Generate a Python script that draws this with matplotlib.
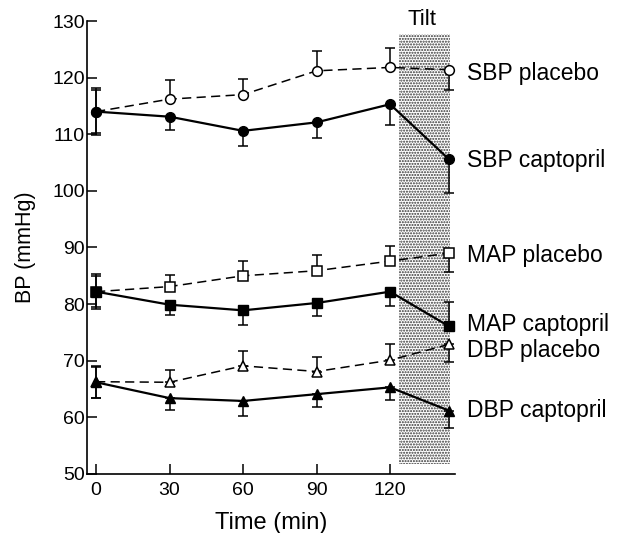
import numpy as np
import matplotlib.pyplot as plt

plt.rcParams['font.family'] = ['Liberation Sans', 'DejaVu Sans']

# Tiempos (min); el ultimo punto es durante el tilt
t = [0, 30, 60, 90, 120, 144]

sbp_plac = [114.0, 116.2, 117.0, 121.2, 121.8, 121.4]
sbp_plac_err = [3.8, 3.4, 2.8, 3.5, 3.4, 3.6]
sbp_capt = [114.0, 113.1, 110.6, 112.1, 115.3, 105.6]
sbp_capt_err = [4.1, 2.4, 2.7, 2.8, 3.6, 5.9]

map_plac = [82.2, 83.1, 85.0, 85.9, 87.6, 89.0]
map_plac_err = [2.7, 2.0, 2.6, 2.7, 2.6, 3.3]
map_capt = [82.2, 79.9, 78.9, 80.2, 82.2, 76.1]
map_capt_err = [3.1, 1.9, 2.5, 2.3, 2.6, 4.3]

dbp_plac = [66.3, 66.2, 69.1, 68.1, 70.1, 72.9]
dbp_plac_err = [2.8, 2.2, 2.6, 2.6, 2.8, 3.2]
dbp_capt = [66.2, 63.4, 62.9, 64.1, 65.3, 61.2]
dbp_capt_err = [2.7, 2.1, 2.7, 2.2, 2.3, 3.0]

# direccion de la barra de error: +1 hacia arriba, -1 hacia abajo, 0 ambas
plac_dir = [0, 1, 1, 1, 1, -1]
capt_dir = [0, -1, -1, -1, -1, -1]
map_capt_dir = [0, -1, -1, -1, -1, 1]

labels = ['SBP placebo', 'SBP captopril', 'MAP placebo', 'MAP captopril',
          'DBP placebo', 'DBP captopril']
label_y = [119.6, 104.3, 87.5, 75.3, 70.7, 60.0]

tilt_x = [123.5, 144.5]
tilt_y = [51.7, 127.7]


def split_err(err, dirs):
    lo = [e if d <= 0 else 0 for e, d in zip(err, dirs)]
    hi = [e if d >= 0 else 0 for e, d in zip(err, dirs)]
    return [lo, hi]


fig = plt.figure(figsize=(6.23, 5.33), dpi=100)
ax = fig.add_axes([0.1397, 0.1107, 0.5906, 0.8499])

ax.fill_between(tilt_x, tilt_y[0], tilt_y[1], facecolor='white',
                edgecolor='#333333', hatch='......', linewidth=0, zorder=0)

series = [
    (sbp_plac, sbp_plac_err, plac_dir, 'o', True),
    (sbp_capt, sbp_capt_err, capt_dir, 'o', False),
    (map_plac, map_plac_err, plac_dir, 's', True),
    (map_capt, map_capt_err, map_capt_dir, 's', False),
    (dbp_plac, dbp_plac_err, plac_dir, '^', True),
    (dbp_capt, dbp_capt_err, capt_dir, '^', False),
]

for y, err, dirs, mk, placebo in series:
    ms = 7 if mk == 'o' else 6.5
    if placebo:
        ax.errorbar(t, y, yerr=split_err(err, dirs), fmt=mk, ls=(0, (6, 3.5)),
                    color='black', lw=1.1, mfc='white', mec='black', mew=1.1,
                    ms=ms, capsize=3.5, elinewidth=1.1, capthick=1.1, zorder=3)
    else:
        ax.errorbar(t, y, yerr=split_err(err, dirs), fmt=mk + '-', color='black',
                    lw=1.6, mfc='black', mec='black', ms=ms, capsize=3.5,
                    elinewidth=1.1, capthick=1.1, zorder=3)

for lab, ly in zip(labels, label_y):
    ax.text(151.3, ly, lab, fontsize=16.5, va='baseline', ha='left', clip_on=False)

ax.text(133.2, 129.3, 'Tilt', fontsize=16, ha='center', va='baseline')

ax.set_xlim(-3.7, 146.5)
ax.set_ylim(50, 130)
ax.set_xticks([0, 30, 60, 90, 120])
ax.set_yticks(np.arange(50, 131, 10))
ax.tick_params(direction='in', length=7, width=1.1, labelsize=14)
ax.tick_params(axis='y', pad=1.5)
ax.tick_params(axis='x', pad=6)
ax.spines['top'].set_visible(False)
ax.spines['right'].set_visible(False)
ax.spines['left'].set_linewidth(1.2)
ax.spines['bottom'].set_linewidth(1.2)
ax.set_xlabel('Time (min)', fontsize=17, labelpad=9)
ax.set_ylabel('BP (mmHg)', fontsize=15.5, labelpad=12)

fig.savefig('out.png', dpi=100)
